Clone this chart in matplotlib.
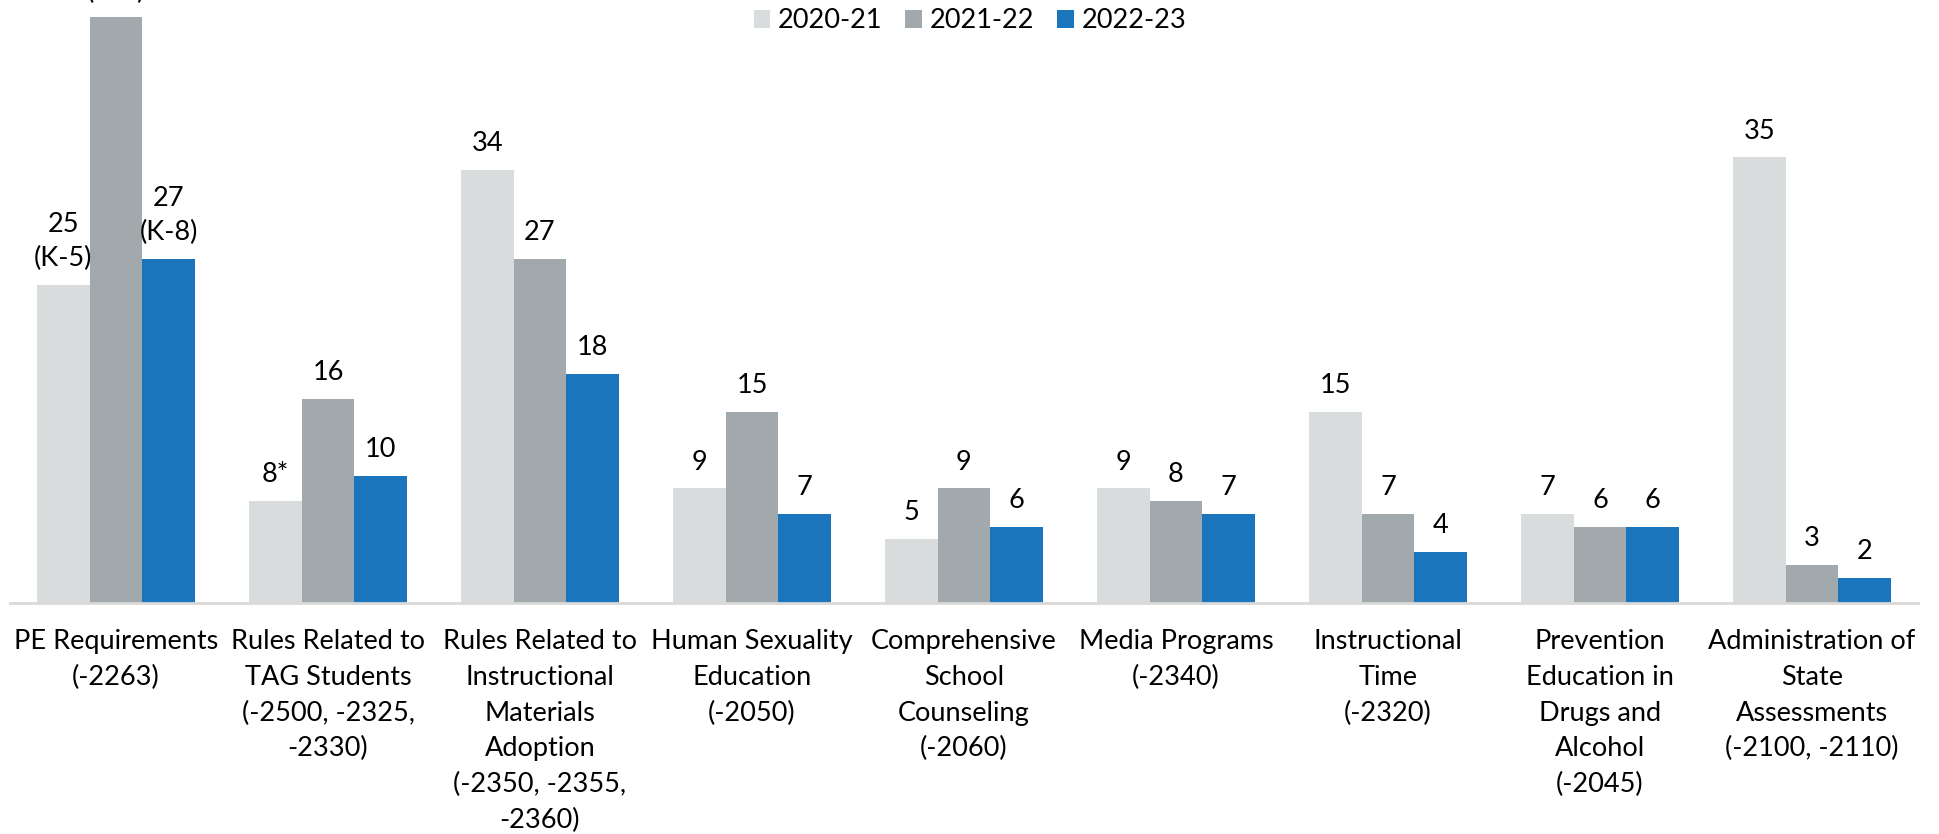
import matplotlib
matplotlib.use("Agg")
import matplotlib.pyplot as plt
import numpy as np

categories = [
    "PE Requirements\n(-2263)",
    "Rules Related to\nTAG Students\n(-2500, -2325,\n-2330)",
    "Rules Related to\nInstructional\nMaterials\nAdoption\n(-2350, -2355,\n-2360)",
    "Human Sexuality\nEducation\n(-2050)",
    "Comprehensive\nSchool\nCounseling\n(-2060)",
    "Media Programs\n(-2340)",
    "Instructional\nTime\n(-2320)",
    "Prevention\nEducation in\nDrugs and\nAlcohol\n(-2045)",
    "Administration of\nState\nAssessments\n(-2100, -2110)",
]
series_names = ["2020-21", "2021-22", "2022-23"]
values_2020 = [25, 8, 34, 9, 5, 9, 15, 7, 35]
values_2021 = [46, 16, 27, 15, 9, 8, 7, 6, 3]
values_2022 = [27, 10, 18, 7, 6, 7, 4, 6, 2]
labels_2020 = ["25\n(K-5)", "8*", "34", "9", "5", "9", "15", "7", "35"]
labels_2021 = ["46\n(K-8)", "16", "27", "15", "9", "8", "7", "6", "3"]
labels_2022 = ["27\n(K-8)", "10", "18", "7", "6", "7", "4", "6", "2"]

colors = ["#D9DCDD", "#A2A9AC", "#1B75BC"]

plt.rcParams["font.family"] = ["Lato", "DejaVu Sans"]
FS = 19.5

fig = plt.figure(figsize=(19.4, 8.34), dpi=100)
ax = fig.add_axes([10 / 1940, (834 - 603) / 834, 1908 / 1940, 603 / 834])

x = np.arange(len(categories))
w = 0.2486
all_vals = [values_2020, values_2021, values_2022]
all_labels = [labels_2020, labels_2021, labels_2022]
for i, (vals, labs) in enumerate(zip(all_vals, all_labels)):
    pos = x + (i - 1) * w
    ax.bar(pos, vals, width=w, color=colors[i], label=series_names[i], zorder=2)
    for p, v, lab in zip(pos, vals, labs):
        ax.annotate(lab, (p, v), xytext=(0, 10), textcoords="offset points",
                    ha="center", va="bottom", fontsize=FS, color="#000000",
                    linespacing=1.45, annotation_clip=False, clip_on=False)

ax.set_xlim(-0.5, len(categories) - 0.5)
ax.set_ylim(0, 603 / 12.73)
ax.set_xticks(x)
ax.set_xticklabels(categories, fontsize=FS, linespacing=1.53, color="#000000")
ax.tick_params(axis="x", length=0, pad=19)
ax.set_yticks([])
for s in ["top", "left", "right"]:
    ax.spines[s].set_visible(False)
ax.spines["bottom"].set_color("#D9D9D9")
ax.spines["bottom"].set_linewidth(2)
ax.spines["bottom"].set_zorder(3)

fig.legend(loc="center", bbox_to_anchor=(0.5, 1 - 21 / 834), ncol=3, frameon=False,
           fontsize=FS, handlelength=0.6, handleheight=0.6, handletextpad=0.3,
           columnspacing=0.85, borderaxespad=0)

fig.savefig("out.png", dpi=100)
